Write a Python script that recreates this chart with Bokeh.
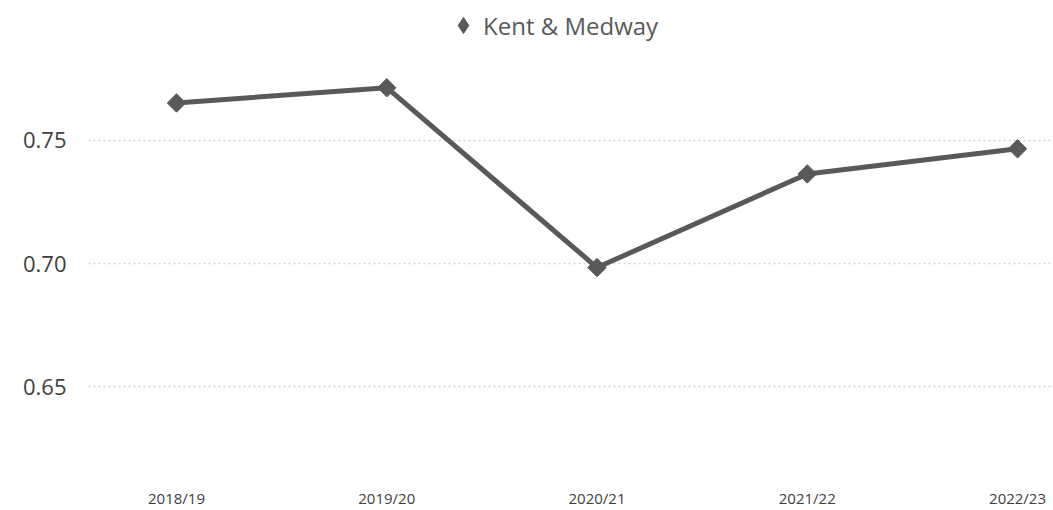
import numpy as np
from bokeh.plotting import figure
from bokeh.models import (FixedTicker, Range1d, Legend, LegendItem, ColumnDataSource,
                          NumeralTickFormatter)
from bokeh.embed import file_html
from bokeh.resources import INLINE

years = ["2018/19", "2019/20", "2020/21", "2021/22", "2022/23"]
values = [0.7652, 0.7714, 0.6984, 0.7364, 0.7466]
y_ticks = [0.65, 0.70, 0.75]
series_name = "Kent & Medway"

idx = list(range(len(years)))
src = ColumnDataSource(dict(x=idx, y=values))

p = figure(width=1053, height=510, output_backend="svg", toolbar_location=None,
           min_border_left=88, min_border_right=0, min_border_top=0, min_border_bottom=30)
p.x_range = Range1d(-0.4186, 4.171)
p.y_range = Range1d(0.6148, 0.8068)
p.outline_line_color = None
p.background_fill_color = "white"
p.border_fill_color = "white"

line = p.line("x", "y", source=src, line_color="#595959", line_width=5)
pts = p.scatter("x", "y", source=src, marker="square", size=13, angle=np.pi / 4,
                fill_color="#595959", line_color="#595959")
# legend swatch: diamond shape, hidden in the plot itself
swatch = p.scatter("x", "y", source=src, marker="diamond", fill_color="#595959",
                   line_color="#595959", visible=False)

# axes
p.xaxis.ticker = FixedTicker(ticks=idx)
p.xaxis.major_label_overrides = {i: y for i, y in enumerate(years)}
p.xaxis.axis_line_color = None
p.xaxis.major_tick_line_color = None
p.xaxis.minor_tick_line_color = None
p.xaxis.major_label_standoff = 8
p.xaxis.major_label_text_font = "Open Sans"
p.xaxis.major_label_text_font_size = "15px"
p.xaxis.major_label_text_color = "#404040"

p.yaxis.ticker = FixedTicker(ticks=y_ticks)
p.yaxis.formatter = NumeralTickFormatter(format="0.00")
p.yaxis.axis_line_color = None
p.yaxis.major_tick_line_color = None
p.yaxis.minor_tick_line_color = None
p.yaxis.major_label_standoff = 16
p.yaxis.major_label_text_font = "Open Sans"
p.yaxis.major_label_text_font_size = "22px"
p.yaxis.major_label_text_color = "#404040"

p.xgrid.grid_line_color = None
p.ygrid.ticker = FixedTicker(ticks=y_ticks)
p.ygrid.grid_line_color = "#d4d4d4"
p.ygrid.grid_line_dash = "2 3"
p.ygrid.grid_line_width = 1.5

legend = Legend(items=[LegendItem(label=series_name, renderers=[swatch])],
                location=(355, 424), orientation="horizontal",
                padding=0, margin=0, spacing=0, label_standoff=0,
                glyph_width=40, glyph_height=48,
                border_line_color=None, background_fill_alpha=0,
                label_text_font="Open Sans", label_text_font_size="24px",
                label_text_color="#595959")
p.add_layout(legend)

open("out.html", "w").write(file_html(p, INLINE))
